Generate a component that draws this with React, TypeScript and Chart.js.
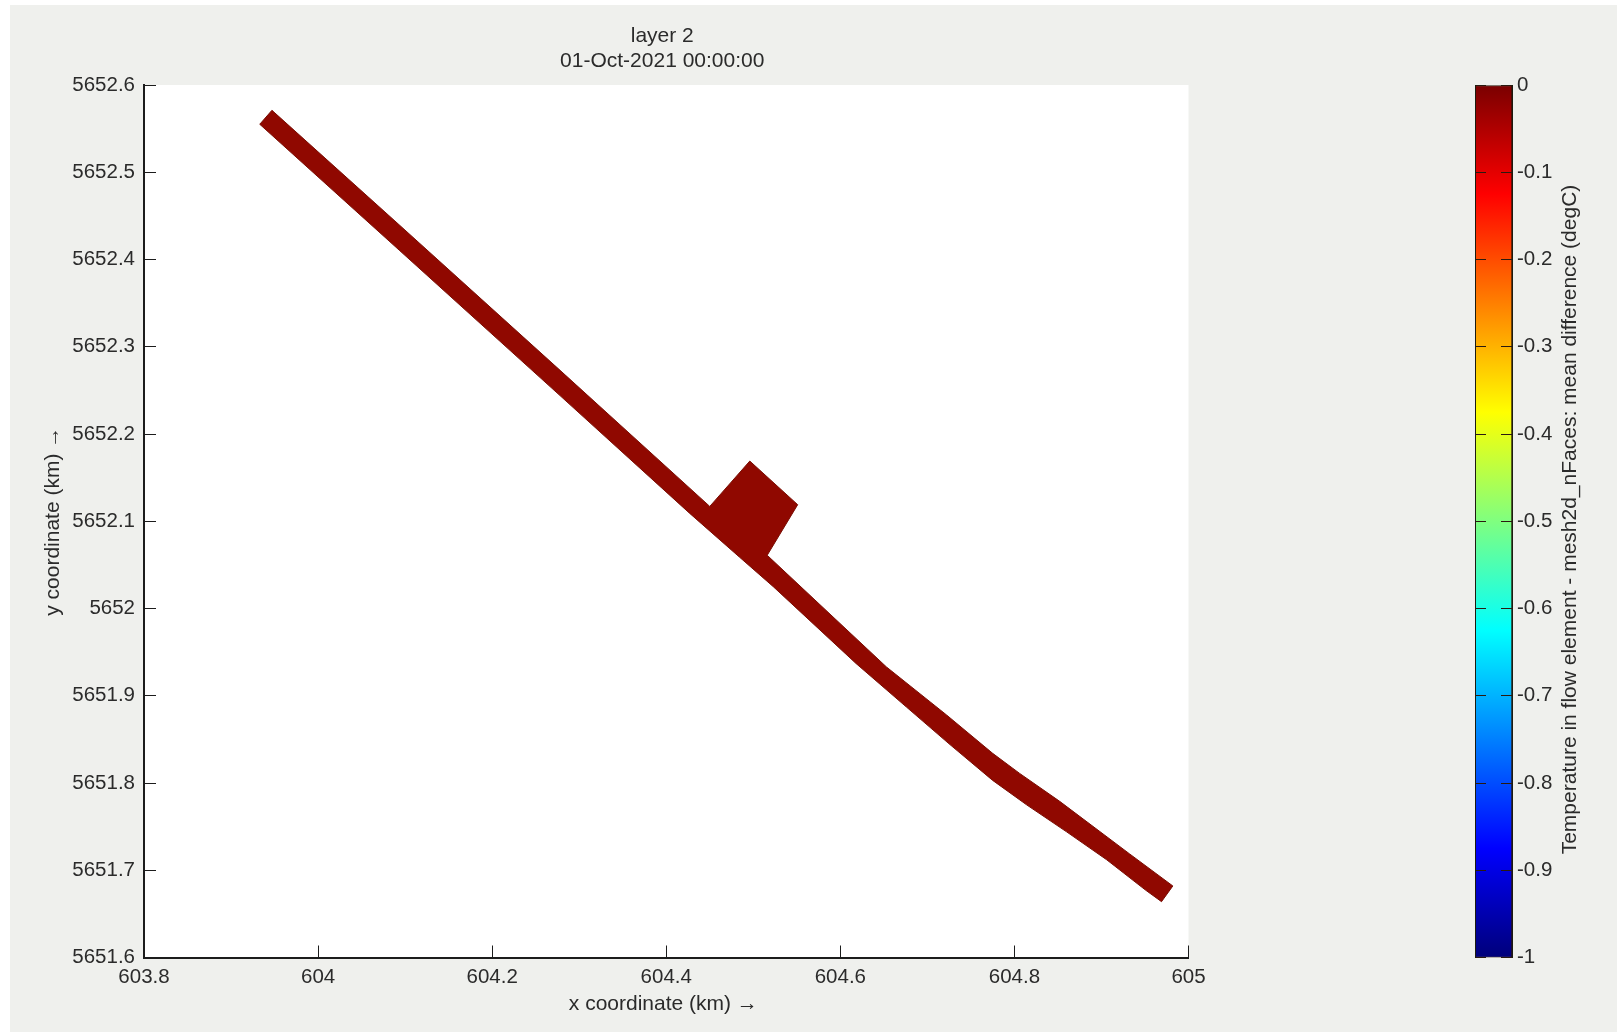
import React, { useEffect, useRef } from "react";
import { Chart, registerables } from "chart.js";

Chart.register(...registerables);

// ---- data ----
const xTicks = [603.8, 604, 604.2, 604.4, 604.6, 604.8, 605];
const yTicks = [5651.6, 5651.7, 5651.8, 5651.9, 5652, 5652.1, 5652.2, 5652.3, 5652.4, 5652.5, 5652.6];
const colorTicks = [-1, -0.9, -0.8, -0.7, -0.6, -0.5, -0.4, -0.3, -0.2, -0.1, 0];

const titleLines = ["layer 2", "01-Oct-2021 00:00:00"];
const xLabel = "x coordinate (km) \u2192\u00a0";
const yLabel = "y coordinate (km) \u2192";
const colorLabel = "Temperature in flow element - mesh2d_nFaces: mean difference (degC)";

// outline of the coloured cells (channel with side basin), km
const outlineX = [
  603.947, 604.094, 604.278, 604.45, 604.496, 604.551, 604.516, 604.653, 604.722, 604.775, 604.806, 604.852, 604.932,
  604.982, 604.969, 604.951, 604.906, 604.86, 604.814, 604.775, 604.726, 604.676, 604.618, 604.523, 604.484, 604.427,
  604.278, 604.094, 603.933, 603.947,
];
const outlineY = [
  5652.571, 5652.439, 5652.273, 5652.117, 5652.169, 5652.119, 5652.061, 5651.933, 5651.878, 5651.834, 5651.811,
  5651.779, 5651.719, 5651.682, 5651.664, 5651.677, 5651.712, 5651.744, 5651.775, 5651.803, 5651.844, 5651.887,
  5651.937, 5652.025, 5652.059, 5652.109, 5652.244, 5652.41, 5652.555, 5652.571,
];

const colorRange: [number, number] = [-1, 0];
const jetValues = [-1, -0.875, -0.625, -0.375, -0.125, 0];
const jetColors = ["#00007a", "#0000ff", "#00ffff", "#ffff00", "#ff0000", "#7a0000"];

// ---- styling ----
const FONT = "'Liberation Sans', Arial, sans-serif";
const INK = "#2b2b2b";
const LINE = "#1c1c1c";
const W = 1617;
const H = 1032;
const PLOT_LEFT = 144;
const PLOT_RIGHT = 1188.5;
const PLOT_TOP = 85;
const PLOT_BOTTOM = 957.5;
const BAR_CANVAS_LEFT = 1440;
const BAR_LEFT = 1475;
const BAR_RIGHT = 1512;

const plotBackground = {
  id: "plotBackground",
  beforeDraw(chart: any) {
    const a = chart.chartArea;
    chart.ctx.save();
    chart.ctx.fillStyle = "#ffffff";
    chart.ctx.fillRect(a.left, a.top, a.right - a.left, a.bottom - a.top);
    chart.ctx.restore();
  },
};

const titleShift = {
  id: "titleShift",
  afterLayout(chart: any) {
    if (chart.titleBlock) {
      chart.titleBlock.left -= 4;
      chart.titleBlock.right -= 4;
    }
  },
};

const colorbarLabel = {
  id: "colorbarLabel",
  afterDraw(chart: any) {
    const c = chart.ctx;
    c.save();
    c.translate(1570 - BAR_CANVAS_LEFT, 519.5);
    c.rotate(-Math.PI / 2);
    c.font = `21px ${FONT}`;
    c.fillStyle = INK;
    c.textAlign = "center";
    c.textBaseline = "middle";
    c.fillText(colorLabel, 0, 0);
    c.restore();
  },
};

export default function App() {
  const mainRef = useRef<HTMLCanvasElement>(null);
  const barRef = useRef<HTMLCanvasElement>(null);

  useEffect(() => {
    const tickFont = { family: FONT, size: 20.5 };
    const main = new Chart(mainRef.current as HTMLCanvasElement, {
      type: "line",
      data: {
        datasets: [
          {
            label: "layer 2",
            data: outlineX.map((x, i) => ({ x, y: outlineY[i] })),
            fill: "shape",
            backgroundColor: "#900800",
            borderColor: "#7a0e04",
            borderWidth: 1,
            pointRadius: 0,
            tension: 0,
            spanGaps: true,
          },
        ],
      },
      plugins: [plotBackground, titleShift],
      options: {
        animation: false,
        responsive: false,
        devicePixelRatio: 1,
        layout: { padding: { top: 0, left: 0, right: W - PLOT_RIGHT, bottom: 0 } },
        plugins: {
          legend: { display: false },
          tooltip: { enabled: false },
          title: {
            display: true,
            text: titleLines,
            fullSize: false,
            color: INK,
            font: { family: FONT, size: 21, weight: "normal", lineHeight: 25 / 21 },
            padding: { top: 24, bottom: PLOT_TOP - 74 },
          },
        },
        scales: {
          x: {
            type: "linear",
            min: xTicks[0],
            max: xTicks[xTicks.length - 1],
            afterBuildTicks: (s: any) => {
              s.ticks = xTicks.map((value) => ({ value }));
            },
            afterFit: (s: any) => {
              s.height = H - PLOT_BOTTOM;
            },
            border: { display: true, color: LINE, width: 2 },
            grid: { drawOnChartArea: false, drawTicks: true, tickLength: -12, tickColor: LINE, tickWidth: 1 },
            ticks: {
              autoSkip: false,
              maxRotation: 0,
              font: tickFont,
              color: INK,
              padding: 20,
              callback: (v: any) => String(v),
            },
            title: {
              display: true,
              text: xLabel,
              color: INK,
              font: { family: FONT, size: 21 },
              padding: { top: 0, bottom: 14.9 },
            },
          },
          y: {
            type: "linear",
            min: yTicks[0],
            max: yTicks[yTicks.length - 1],
            afterBuildTicks: (s: any) => {
              s.ticks = yTicks.map((value) => ({ value }));
            },
            afterFit: (s: any) => {
              s.width = PLOT_LEFT;
            },
            border: { display: true, color: LINE, width: 2 },
            grid: { drawOnChartArea: false, drawTicks: true, tickLength: -12, tickColor: LINE, tickWidth: 1 },
            ticks: {
              autoSkip: false,
              font: tickFont,
              color: INK,
              padding: 21,
              callback: (v: any) => String(v),
            },
            title: {
              display: true,
              text: yLabel,
              color: INK,
              font: { family: FONT, size: 21 },
              padding: { top: 40.9, bottom: 0 },
            },
          },
        },
      },
    } as any);

    const gradient = (ctx: any) => {
      const { chart } = ctx;
      const s = chart.scales.yR;
      if (!chart.chartArea || !s) return jetColors[jetColors.length - 1];
      const y0 = s.getPixelForValue(jetValues[0]);
      const y1 = s.getPixelForValue(jetValues[jetValues.length - 1]);
      const g = chart.ctx.createLinearGradient(0, y0, 0, y1);
      jetValues.forEach((v, i) => g.addColorStop((s.getPixelForValue(v) - y0) / (y1 - y0), jetColors[i]));
      return g;
    };

    const cbScale = (width: number, position: string, showLabels: boolean) => ({
      type: "linear",
      position,
      min: colorRange[0],
      max: colorRange[1],
      afterBuildTicks: (s: any) => {
        s.ticks = colorTicks.map((value) => ({ value }));
      },
      afterFit: (s: any) => {
        s.width = width;
      },
      border: { display: true, color: "#1c1c10", width: 1, z: 2 },
      grid: { z: 2, drawOnChartArea: false, drawTicks: true, tickLength: -11, tickColor: "#2a1a10", tickWidth: 1 },
      ticks: {
        display: showLabels,
        autoSkip: false,
        font: tickFont,
        color: INK,
        padding: 16,
        callback: (v: any) => String(v),
      },
    });

    const bar = new Chart(barRef.current as HTMLCanvasElement, {
      type: "bar",
      data: {
        labels: ["colorbar"],
        datasets: [
          {
            label: "colorbar",
            yAxisID: "yR",
            data: [colorRange],
            backgroundColor: gradient,
            borderColor: "#2a1408",
            borderWidth: 1,
            borderSkipped: false,
            categoryPercentage: 1,
            barPercentage: 1,
          },
        ],
      },
      plugins: [colorbarLabel],
      options: {
        animation: false,
        responsive: false,
        devicePixelRatio: 1,
        layout: { padding: { top: PLOT_TOP, bottom: H - PLOT_BOTTOM, left: 0, right: 0 } },
        plugins: { legend: { display: false }, tooltip: { enabled: false }, title: { display: false } },
        scales: {
          x: { display: false },
          yL: cbScale(BAR_LEFT - BAR_CANVAS_LEFT, "left", false),
          yR: cbScale(W - BAR_RIGHT, "right", true),
        },
      },
    } as any);

    return () => {
      main.destroy();
      bar.destroy();
    };
  }, []);

  return (
    <div style={{ position: "absolute", left: 0, top: 0, width: W, height: H, background: "#ffffff", overflow: "hidden" }}>
      <div style={{ position: "absolute", left: 10, top: 5, right: 0, bottom: 0, background: "#eff0ed" }} />
      <canvas ref={mainRef} width={W} height={H} style={{ position: "absolute", left: 0, top: 0, display: "block" }} />
      <canvas
        ref={barRef}
        width={W - BAR_CANVAS_LEFT}
        height={H}
        style={{ position: "absolute", left: BAR_CANVAS_LEFT, top: 0, display: "block" }}
      />
    </div>
  );
}
